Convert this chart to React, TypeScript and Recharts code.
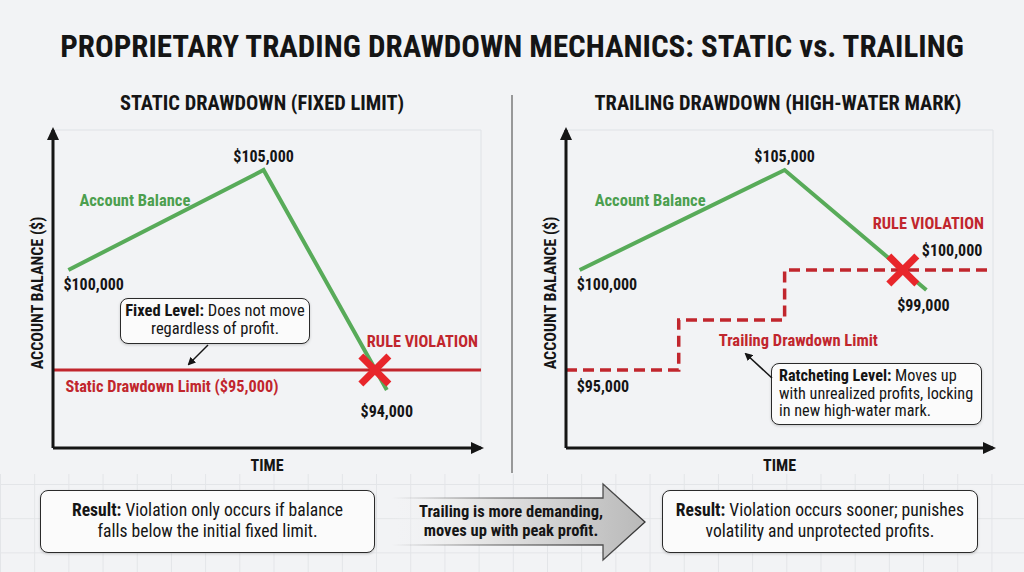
import { ComposedChart, Line, XAxis, YAxis, CartesianGrid, ReferenceLine, ReferenceDot } from "recharts";

const FONT = "'Liberation Sans Narrow', 'Roboto Condensed', Roboto, sans-serif";
const GREEN = "#58ab59";
const GREEN_TEXT = "#4c9f4f";
const RED = "#c1262d";
const X_RED = "#e8262b";
const INK = "#151515";

// time is unitless: one unit per grid column
const staticTime = [0, 5.7, 9.3];
const staticBalance = [100000, 105000, 94000];
const staticLimit = 95000;
const staticViolation = [8.95, 95000];

const trailingTime = [0, 6, 10.15];
const trailingBalance = [100000, 105000, 99000];
const trailingLimitTime = [-0.4, 2.9, 6, 12.1];
const trailingLimitValue = [95000, 97500, 100000, 100000];
const trailingViolation = [9.46, 100000];

const balanceDomain = [91100, 107000];
const balanceGrid = [92500, 95000, 97500, 100000, 102500, 105000];
const timeGrid = [0, 1, 2, 3, 4, 5, 6, 7, 8, 9, 10, 11, 12];

const staticRows = staticTime.map((t, i) => ({ t, balance: staticBalance[i] }));
const trailingRows = trailingTime.map((t, i) => ({ t, balance: trailingBalance[i] }));
const trailingLimitRows = trailingLimitTime.map((t, i) => ({ t, limit: trailingLimitValue[i] }));

type NoteOpts = { anchor?: "start" | "middle" | "end"; color?: string; size?: number; weight?: number; rotate?: boolean };

const note = (text: string, dx: number, dy: number, o: NoteOpts = {}) => (p: any) => {
  const x = p.cx + dx;
  const y = p.cy + dy;
  return (
    <text
      x={x}
      y={y}
      transform={o.rotate ? `rotate(-90, ${x}, ${y})` : undefined}
      textAnchor={o.anchor || "middle"}
      fill={o.color || INK}
      fontSize={o.size || 16}
      fontWeight={o.weight || 700}
      fontFamily={FONT}
    >
      {text}
    </text>
  );
};

const crossMark = (p: any) => (
  <g stroke={X_RED} strokeWidth={7}>
    <line x1={p.cx - 14} y1={p.cy - 14} x2={p.cx + 14} y2={p.cy + 14} />
    <line x1={p.cx - 14} y1={p.cy + 14} x2={p.cx + 14} y2={p.cy - 14} />
  </g>
);

const arrowUp = (p: any) => <polygon points={`${p.cx - 6},${p.cy + 10} ${p.cx + 6},${p.cy + 10} ${p.cx},${p.cy - 3}`} fill={INK} />;
const arrowRight = (p: any) => <polygon points={`${p.cx - 10},${p.cy - 6} ${p.cx - 10},${p.cy + 6} ${p.cx + 3},${p.cy}`} fill={INK} />;

function Panel({ xDomain, left, children }: { xDomain: number[]; left: number; children: any }) {
  const midT = (xDomain[0] + xDomain[1]) / 2;
  const midV = (balanceDomain[0] + balanceDomain[1]) / 2;
  return (
    <ComposedChart width={512} height={380} margin={{ top: 30, right: 31, bottom: 32, left }}>
      <CartesianGrid stroke="#dfe2e6" strokeWidth={1} />
      <XAxis type="number" dataKey="t" domain={xDomain} allowDataOverflow ticks={timeGrid} interval={0} tick={false} tickLine={false} axisLine={false} height={0} />
      <YAxis type="number" domain={balanceDomain} allowDataOverflow ticks={balanceGrid} interval={0} tick={false} tickLine={false} axisLine={false} width={0} />
      {children}
      <ReferenceLine x={xDomain[0]} stroke={INK} strokeWidth={3} />
      <ReferenceLine y={balanceDomain[0]} stroke={INK} strokeWidth={3} />
      <ReferenceDot x={xDomain[0]} y={balanceDomain[1]} r={0} shape={arrowUp} />
      <ReferenceDot x={xDomain[1]} y={balanceDomain[0]} r={0} shape={arrowRight} />
      <ReferenceDot x={xDomain[0]} y={midV} r={0} shape={note("ACCOUNT BALANCE ($)", -10, 4, { rotate: true, size: 16 })} />
      <ReferenceDot x={midT} y={balanceDomain[0]} r={0} shape={note("TIME", 0, 23, { size: 16 })} />
    </ComposedChart>
  );
}

const box: any = {
  position: "absolute",
  background: "#fbfbfb",
  border: "1.5px solid #2a2a2a",
  borderRadius: 8,
  boxShadow: "0 1px 3px rgba(0,0,0,0.18)",
  boxSizing: "border-box",
  color: INK,
};

export default function App() {
  const gridBg =
    "linear-gradient(to right, #e3e5e8 1px, transparent 1px), linear-gradient(to bottom, #e3e5e8 1px, transparent 1px)";
  return (
    <div style={{ position: "absolute", left: 0, top: 0, width: 1024, height: 572, overflow: "hidden", background: "#f2f3f5", fontFamily: FONT, color: INK }}>
      <div style={{ position: "absolute", left: 0, top: 474, width: 1024, height: 98, backgroundImage: gridBg, backgroundSize: "34.2px 34.2px", backgroundPosition: "0px 10px" }} />

      <div style={{ position: "absolute", left: 0, top: 28, width: 1024, textAlign: "center", fontSize: 31, fontWeight: 700, lineHeight: "38px" }}>
        PROPRIETARY TRADING DRAWDOWN MECHANICS: STATIC vs. TRAILING
      </div>
      <div style={{ position: "absolute", left: 62, top: 90, width: 400, textAlign: "center", fontSize: 20.4, fontWeight: 700, lineHeight: "26px" }}>
        STATIC DRAWDOWN (FIXED LIMIT)
      </div>
      <div style={{ position: "absolute", left: 578, top: 90, width: 400, textAlign: "center", fontSize: 20.4, fontWeight: 700, lineHeight: "26px" }}>
        TRAILING DRAWDOWN (HIGH-WATER MARK)
      </div>

      <div style={{ position: "absolute", left: 0, top: 100 }}>
        <Panel xDomain={[-0.45, 12.05]} left={53}>
          <ReferenceLine y={staticLimit} stroke={RED} strokeWidth={3} />
          <Line data={staticRows} dataKey="balance" stroke={GREEN} strokeWidth={4} dot={false} isAnimationActive={false} />
          <ReferenceDot x={staticTime[1]} y={staticBalance[1]} r={0} shape={note("$105,000", 0, -8)} />
          <ReferenceDot x={staticTime[0]} y={staticBalance[0]} r={0} shape={note("$100,000", -5, 20, { anchor: "start" })} />
          <ReferenceDot x={staticTime[2]} y={staticBalance[2]} r={0} shape={note("$94,000", 0, 27)} />
          <ReferenceDot x={staticTime[0]} y={staticBalance[0]} r={0} shape={note("Account Balance", 11, -64, { anchor: "start", color: GREEN_TEXT, size: 16.5 })} />
          <ReferenceDot x={0} y={staticLimit} r={0} shape={note("Static Drawdown Limit ($95,000)", -3, 22, { anchor: "start", color: RED, size: 16.3 })} />
          <ReferenceDot x={staticViolation[0]} y={staticViolation[1]} r={0} shape={note("RULE VIOLATION", -8, -23, { anchor: "start", color: RED, size: 16.3 })} />
          <ReferenceDot x={staticViolation[0]} y={staticViolation[1]} r={0} shape={crossMark} />
        </Panel>
      </div>

      <div style={{ position: "absolute", left: 512, top: 100 }}>
        <Panel xDomain={[-0.4, 12.1]} left={54}>
          <Line data={trailingLimitRows} dataKey="limit" type="stepAfter" stroke={RED} strokeWidth={3.5} strokeDasharray="11 6" dot={false} isAnimationActive={false} />
          <Line data={trailingRows} dataKey="balance" stroke={GREEN} strokeWidth={4} dot={false} isAnimationActive={false} />
          <ReferenceDot x={trailingTime[1]} y={trailingBalance[1]} r={0} shape={note("$105,000", 0, -8)} />
          <ReferenceDot x={trailingTime[0]} y={trailingBalance[0]} r={0} shape={note("$100,000", -3, 20, { anchor: "start" })} />
          <ReferenceDot x={trailingTime[2]} y={trailingBalance[2]} r={0} shape={note("$99,000", -3, 21)} />
          <ReferenceDot x={trailingTime[0]} y={trailingBalance[0]} r={0} shape={note("Account Balance", 15, -64, { anchor: "start", color: GREEN_TEXT, size: 16.5 })} />
          <ReferenceDot x={0} y={trailingLimitValue[0]} r={0} shape={note("$95,000", -3, 22, { anchor: "start" })} />
          <ReferenceDot x={trailingLimitTime[1]} y={trailingLimitValue[1]} r={0} shape={note("Trailing Drawdown Limit", 40, 26, { anchor: "start", color: RED, size: 16.5 })} />
          <ReferenceDot x={trailingViolation[0]} y={trailingViolation[1]} r={0} shape={note("RULE VIOLATION", -30, -41, { anchor: "start", color: RED, size: 16.3 })} />
          <ReferenceDot x={trailingViolation[0]} y={trailingViolation[1]} r={0} shape={note("$100,000", 19, -14, { anchor: "start" })} />
          <ReferenceDot x={trailingViolation[0]} y={trailingViolation[1]} r={0} shape={crossMark} />
        </Panel>
      </div>

      {/* callouts */}
      <div style={{ ...box, left: 120, top: 298, width: 190, height: 46, fontSize: 16.5, lineHeight: "18px", textAlign: "center", paddingTop: 3, whiteSpace: "nowrap" }}>
        <b>Fixed Level:</b> Does not move
        <br />
        regardless of profit.
      </div>
      <div style={{ ...box, left: 771, top: 363, width: 211, height: 62, fontSize: 16.2, lineHeight: "17.5px", padding: "3px 0 0 7px", whiteSpace: "nowrap" }}>
        <b>Ratcheting Level:</b> Moves up
        <br />
        with unrealized profits, locking
        <br />
        in new high-water mark.
      </div>

      <div style={{ ...box, left: 40, top: 490, width: 335, height: 63, fontSize: 17.6, lineHeight: "21px", textAlign: "center", paddingTop: 9, whiteSpace: "nowrap" }}>
        <b>Result:</b> Violation only occurs if balance
        <br />
        falls below the initial fixed limit.
      </div>
      <div style={{ ...box, left: 662, top: 490, width: 316, height: 63, fontSize: 17.6, lineHeight: "21px", textAlign: "center", paddingTop: 9, whiteSpace: "nowrap" }}>
        <b>Result:</b> Violation occurs sooner; punishes
        <br />
        volatility and unprotected profits.
      </div>

      <svg width={1024} height={572} style={{ position: "absolute", left: 0, top: 0, pointerEvents: "none" }}>
        <defs>
          <linearGradient id="arrowFill" x1="0" x2="1" y1="0" y2="0">
            <stop offset="0" stopColor="#f2f3f5" stopOpacity={0} />
            <stop offset="0.25" stopColor="#ececec" />
            <stop offset="1" stopColor="#b9b9b9" />
          </linearGradient>
          <linearGradient id="arrowEdge" x1="0" x2="1" y1="0" y2="0">
            <stop offset="0" stopColor="#555" stopOpacity={0} />
            <stop offset="0.4" stopColor="#555" stopOpacity={0.6} />
            <stop offset="1" stopColor="#333" />
          </linearGradient>
          <marker id="tip" markerWidth="8" markerHeight="8" refX="6" refY="4" orient="auto" markerUnits="userSpaceOnUse">
            <path d="M0,0 L8,4 L0,8 Z" fill={INK} />
          </marker>
        </defs>
        <line x1={512} y1={95} x2={512} y2={473} stroke="#7a7a7a" strokeWidth={1.5} />
        <line x1={208} y1={345} x2={189} y2={364} stroke={INK} strokeWidth={1.5} markerEnd="url(#tip)" />
        <line x1={772} y1={378} x2={746} y2={354} stroke={INK} strokeWidth={1.5} markerEnd="url(#tip)" />
        <polygon
          points="392,498 603,498 603,484 645,522 603,560 603,545 392,545"
          fill="url(#arrowFill)"
          stroke="url(#arrowEdge)"
          strokeWidth={1.3}
        />
        <text x={511} y={517} textAnchor="middle" fontSize={16.5} fontWeight={700} fill={INK} fontFamily={FONT}>
          Trailing is more demanding,
        </text>
        <text x={511} y={536} textAnchor="middle" fontSize={16.5} fontWeight={700} fill={INK} fontFamily={FONT}>
          moves up with peak profit.
        </text>
      </svg>
    </div>
  );
}
